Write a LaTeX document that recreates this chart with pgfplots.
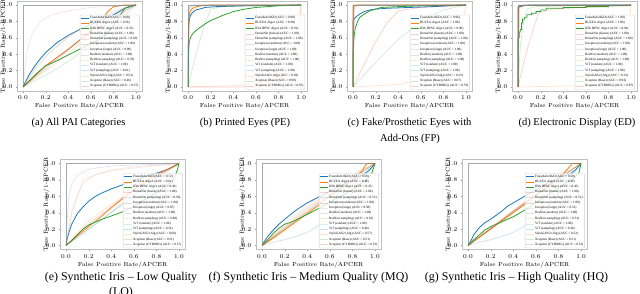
\documentclass[border=0pt]{standalone}
\usepackage{fontspec}
\usepackage{pgfplots}
\pgfplotsset{compat=1.18}
\newfontfamily\capfont{Liberation Serif}
\definecolor{tblue}{HTML}{1F77B4}
\definecolor{torange}{HTML}{FF7F0E}
\definecolor{tgreen}{HTML}{2CA02C}
\definecolor{tred}{HTML}{D62728}
\definecolor{tpurple}{HTML}{9467BD}
\definecolor{tbrown}{HTML}{8C564B}
\definecolor{tpink}{HTML}{E377C2}
\definecolor{tgray}{HTML}{7F7F7F}
\definecolor{tolive}{HTML}{BCBD22}
\definecolor{tcyan}{HTML}{17BECF}
\pgfplotsset{
 roc/.style={
  scale only axis, width=124.3pt, height=90.2pt, anchor=south west,
  xmin=-0.05, xmax=1.05, ymin=-0.05, ymax=1.05,
  xtick={0,0.2,0.4,0.6,0.8,1}, ytick={0,0.2,0.4,0.6,0.8,1},
  tick label style={font=\fontsize{6}{7}\selectfont, /pgf/number format/fixed, /pgf/number format/fixed zerofill, /pgf/number format/precision=1},
  label style={font=\fontsize{5.9}{7}\selectfont},
  xlabel={False Positive Rate/APCER},
  ylabel={True Positive Rate/1-BPCER},
  xlabel style={yshift=3.5pt},
  ylabel style={at={(axis description cs:-0.113,0.5)}, anchor=center},
  axis line style={draw=black!25},
  tick pos=left, tick align=outside, major tick length=1.5pt, tick style={black!40},
  legend style={at={(0.985,0.015)}, anchor=south east, font=\capfont\fontsize{3.3}{3.6}\selectfont, draw=black!18, fill=white, fill opacity=0.8, text opacity=1, rounded corners=1pt, inner sep=0.8pt, row sep=0.45pt, nodes={inner sep=0.5pt}},
  legend cell align=left,
  legend image code/.code={\draw[##1] (0pt,0pt) -- (8pt,0pt);},
 },
 m1/.style={tblue, line width=0.8pt},
 m2/.style={torange, line width=0.8pt},
 m3/.style={tgreen, line width=0.8pt},
 fd/.style={line width=0.7pt, opacity=0.22},
 f4/.style={tred, fd}, f5/.style={tpurple, fd}, f6/.style={tbrown, fd}, f7/.style={tpink, fd},
 f8/.style={tgray, fd}, f9/.style={tolive, fd}, f10/.style={tcyan, fd}, f11/.style={tblue, fd},
 f12/.style={torange, fd}, f13/.style={tgreen, fd}, f14/.style={tred, fd},
}
\begin{document}
\begin{tikzpicture}
\path[use as bounding box] (0pt,0pt) rectangle (640pt,294pt);

% (a)
\begin{axis}[roc, at={(17.4pt,202.9pt)},
 legend entries={FraunhoferIGD (AUC = 0.68),BUCEA Algo1 (AUC = 0.56),IDA DPSC Algo1 (AUC = 0.53),DenseNet (fusion) (AUC = 1.00),DenseNet (sampling) (AUC = 0.69),Inception (random) (AUC = 1.00),Inception (large) (AUC = 0.89),ResNet (random) (AUC = 1.00),ResNet (sampling) (AUC = 0.70),ViT (random) (AUC = 1.00),ViT (sampling) (AUC = 0.61),StyleGAN2 (Alg) (AUC = 0.53),Xception (Base) (AUC = 0.46),Xception (CYBORG) (AUC = 0.57)}]
\addplot[m1] coordinates {(0,0)(0.02,0.06)(0.05,0.14)(0.1,0.25)(0.15,0.34)(0.2,0.42)(0.3,0.54)(0.4,0.63)(0.5,0.7)(0.6,0.76)(0.7,0.82)(0.8,0.88)(0.9,0.96)(0.95,0.99)(1,1)};
\addplot[m2] coordinates {(0,0)(0.1,0.13)(0.2,0.26)(0.3,0.36)(0.4,0.46)(0.5,0.57)(0.6,0.68)(0.7,0.83)(0.75,0.92)(0.8,0.98)(0.9,1)(1,1)};
\addplot[m3] coordinates {(0,0)(0.1,0.14)(0.2,0.26)(0.3,0.32)(0.4,0.39)(0.5,0.46)(0.6,0.53)(0.7,0.6)(0.75,0.66)(0.8,0.75)(0.85,0.85)(0.9,0.96)(1,1)};
\addplot[f4] coordinates {(0,0)(0,1)(1,1)};
\addplot[f5] coordinates {(0,0)(0.1,0.22)(0.2,0.38)(0.3,0.5)(0.5,0.7)(0.7,0.85)(0.9,0.96)(1,1)};
\addplot[f6] coordinates {(0,0)(0,1)(1,1)};
\addplot[f7] coordinates {(0,0)(0.03,0.4)(0.08,0.65)(0.15,0.8)(0.25,0.88)(0.4,0.93)(0.6,0.97)(1,1)};
\addplot[f8] coordinates {(0,0)(0,1)(1,1)};
\addplot[f9] coordinates {(0,0)(0.1,0.2)(0.2,0.36)(0.4,0.62)(0.6,0.8)(0.8,0.93)(1,1)};
\addplot[f10] coordinates {(0,0)(0,1)(1,1)};
\addplot[f11] coordinates {(0,0)(0.2,0.22)(0.4,0.45)(0.6,0.7)(0.8,0.88)(1,1)};
\addplot[f12] coordinates {(0,0)(0.3,0.3)(0.6,0.63)(0.8,0.84)(1,1)};
\addplot[f13] coordinates {(0,0)(0.3,0.22)(0.6,0.5)(0.8,0.74)(1,1)};
\addplot[f14] coordinates {(0,0)(0.3,0.36)(0.6,0.67)(0.8,0.86)(1,1)};
\end{axis}

% (b)
\begin{axis}[roc, at={(182.5pt,202.9pt)},
 legend entries={FraunhoferIGD (AUC = 0.98),BUCEA Algo1 (AUC = 0.98),IDA DPSC Algo1 (AUC = 0.91),DenseNet (fusion) (AUC = 1.00),DenseNet (sampling) (AUC = 1.00),Inception (random) (AUC = 1.00),Inception (large) (AUC = 1.00),ResNet (random) (AUC = 1.00),ResNet (sampling) (AUC = 1.00),ViT (random) (AUC = 1.00),ViT (sampling) (AUC = 1.00),StyleGAN2 (Alg) (AUC = 0.18),Xception (Base) (AUC = 0.90),Xception (CYBORG) (AUC = 0.07)}]
\addplot[m1] coordinates {(0,0)(0.003,0.72)(0.01,0.82)(0.02,0.87)(0.04,0.91)(0.07,0.94)(0.1,0.95)(0.15,0.97)(0.25,0.98)(0.5,0.99)(1,1)};
\addplot[m2] coordinates {(0,0)(0.003,0.78)(0.01,0.88)(0.02,0.93)(0.04,0.96)(0.07,0.98)(0.12,0.99)(0.2,1)(1,1)};
\addplot[m3] coordinates {(0,0)(0.003,0.45)(0.01,0.55)(0.02,0.6)(0.04,0.65)(0.07,0.69)(0.1,0.72)(0.15,0.77)(0.2,0.81)(0.3,0.87)(0.4,0.92)(0.5,0.95)(0.6,0.97)(0.8,0.99)(1,1)};
\addplot[f4] coordinates {(0,0)(0,1)(1,1)};
\addplot[f5] coordinates {(0,0)(0,0.95)(0.05,1)(1,1)};
\addplot[f6] coordinates {(0,0)(0,1)(1,1)};
\addplot[f7] coordinates {(0,0)(0.01,0.9)(0.1,0.99)(1,1)};
\addplot[f8] coordinates {(0,0)(0,1)(1,1)};
\addplot[f9] coordinates {(0,0)(0.02,0.96)(0.1,1)(1,1)};
\addplot[f10] coordinates {(0,0)(0,1)(1,1)};
\addplot[f11] coordinates {(0,0)(0.01,0.98)(0.05,1)(1,1)};
\addplot[f12] coordinates {(0,0)(0.5,0.02)(0.8,0.1)(0.9,0.3)(0.97,0.7)(1,1)};
\addplot[f13] coordinates {(0,0)(0.05,0.3)(0.1,0.55)(0.15,0.78)(0.2,0.95)(0.3,0.98)(1,1)};
\addplot[f14] coordinates {(0,0)(0.95,0)(0.97,0.3)(1,1)};
\end{axis}

% (c)
\begin{axis}[roc, at={(347.4pt,202.9pt)},
 legend entries={FraunhoferIGD (AUC = 0.96),BUCEA Algo1 (AUC = 1.00),IDA DPSC Algo1 (AUC = 0.96),DenseNet (fusion) (AUC = 1.00),DenseNet (sampling) (AUC = 1.00),Inception (random) (AUC = 1.00),Inception (large) (AUC = 1.00),ResNet (random) (AUC = 1.00),ResNet (sampling) (AUC = 1.00),ViT (random) (AUC = 1.00),ViT (sampling) (AUC = 1.00),StyleGAN2 (Alg) (AUC = 0.25),Xception (Base) (AUC = 0.67),Xception (CYBORG) (AUC = 0.79)}]
\addplot[m1] coordinates {(0,0)(0,0.8)(0.01,0.83)(0.03,0.86)(0.06,0.89)(0.1,0.92)(0.15,0.94)(0.2,0.95)(0.3,0.96)(0.5,0.97)(0.7,0.98)(1,1)};
\addplot[m2] coordinates {(0,0)(0,0.99)(0.02,1)(1,1)};
\addplot[m3] coordinates {(0,0)(0,0.42)(0.005,0.55)(0.01,0.63)(0.02,0.72)(0.04,0.8)(0.06,0.85)(0.1,0.89)(0.15,0.93)(0.2,0.95)(0.25,0.97)(0.4,0.98)(0.6,0.99)(1,1)};
\addplot[f4] coordinates {(0,0)(0,1)(1,1)};
\addplot[f5] coordinates {(0,0)(0,0.97)(0.05,1)(1,1)};
\addplot[f6] coordinates {(0,0)(0,1)(1,1)};
\addplot[f7] coordinates {(0,0)(0.01,0.95)(0.06,1)(1,1)};
\addplot[f8] coordinates {(0,0)(0,1)(1,1)};
\addplot[f9] coordinates {(0,0)(0.01,0.97)(0.04,1)(1,1)};
\addplot[f10] coordinates {(0,0)(0,1)(1,1)};
\addplot[f11] coordinates {(0,0)(0.01,0.98)(0.03,1)(1,1)};
\addplot[f12] coordinates {(0,0)(0.4,0.03)(0.7,0.12)(0.85,0.3)(0.95,0.65)(1,1)};
\addplot[f13] coordinates {(0,0)(0.2,0.3)(0.4,0.58)(0.6,0.8)(0.8,0.94)(1,1)};
\addplot[f14] coordinates {(0,0)(0.1,0.28)(0.2,0.55)(0.3,0.78)(0.4,0.93)(0.6,0.97)(1,1)};
\end{axis}

% (d)
\begin{axis}[roc, at={(512.4pt,202.9pt)},
 legend entries={FraunhoferIGD (AUC = 1.00),BUCEA Algo1 (AUC = 1.00),IDA DPSC Algo1 (AUC = 0.94),DenseNet (fusion) (AUC = 1.00),DenseNet (sampling) (AUC = 1.00),Inception (random) (AUC = 1.00),Inception (large) (AUC = 1.00),ResNet (random) (AUC = 1.00),ResNet (sampling) (AUC = 1.00),ViT (random) (AUC = 1.00),ViT (sampling) (AUC = 1.00),StyleGAN2 (Alg) (AUC = 0.13),Xception (Base) (AUC = 0.94),Xception (CYBORG) (AUC = 0.87)}]
\addplot[m1] coordinates {(0,0)(0,0.97)(0.02,0.98)(0.05,0.99)(0.1,1)(1,1)};
\addplot[m2] coordinates {(0,0)(0,1)(1,1)};
\addplot[m3] coordinates {(0,0)(0,0.6)(0.01,0.6)(0.01,0.67)(0.02,0.67)(0.02,0.7)(0.03,0.7)(0.03,0.78)(0.04,0.78)(0.04,0.83)(0.06,0.83)(0.06,0.85)(0.08,0.85)(0.08,0.88)(0.12,0.88)(0.12,0.9)(0.16,0.9)(0.16,0.92)(0.2,0.92)(0.2,0.94)(0.25,0.94)(0.25,0.96)(0.4,0.96)(0.4,0.97)(0.6,0.97)(0.6,0.98)(0.8,0.98)(0.8,0.99)(0.95,0.99)(1,1)};
\addplot[f4] coordinates {(0,0)(0,1)(1,1)};
\addplot[f5] coordinates {(0,0)(0,0.98)(0.04,1)(1,1)};
\addplot[f6] coordinates {(0,0)(0,1)(1,1)};
\addplot[f7] coordinates {(0,0)(0.01,0.96)(0.05,1)(1,1)};
\addplot[f8] coordinates {(0,0)(0,1)(1,1)};
\addplot[f9] coordinates {(0,0)(0.01,0.97)(0.03,1)(1,1)};
\addplot[f10] coordinates {(0,0)(0,1)(1,1)};
\addplot[f11] coordinates {(0,0)(0.01,0.98)(0.03,1)(1,1)};
\addplot[f12] coordinates {(0,0)(0.7,0.02)(0.9,0.1)(0.97,0.5)(1,1)};
\addplot[f13] coordinates {(0,0)(0.02,0.5)(0.05,0.8)(0.08,0.95)(0.15,0.98)(1,1)};
\addplot[f14] coordinates {(0,0)(0.05,0.3)(0.1,0.55)(0.18,0.9)(0.3,0.95)(1,1)};
\end{axis}

% (e)
\begin{axis}[roc, at={(60.4pt,44.4pt)},
 legend entries={FraunhoferIGD (AUC = 0.72),BUCEA Algo1 (AUC = 0.61),IDA DPSC Algo1 (AUC = 0.46),DenseNet (fusion) (AUC = 1.00),DenseNet (sampling) (AUC = 0.96),Inception (random) (AUC = 1.00),Inception (large) (AUC = 0.87),ResNet (random) (AUC = 1.00),ResNet (sampling) (AUC = 0.86),ViT (random) (AUC = 1.00),ViT (sampling) (AUC = 0.54),StyleGAN2 (Alg) (AUC = 0.60),Xception (Base) (AUC = 0.51),Xception (CYBORG) (AUC = 0.57)}]
\addplot[m1] coordinates {(0,0)(0.01,0.08)(0.03,0.18)(0.05,0.26)(0.1,0.39)(0.15,0.47)(0.2,0.54)(0.25,0.59)(0.3,0.63)(0.4,0.69)(0.5,0.74)(0.6,0.79)(0.7,0.84)(0.8,0.88)(0.9,0.93)(1,1)};
\addplot[m2] coordinates {(0,0)(0.1,0.12)(0.2,0.23)(0.3,0.34)(0.4,0.46)(0.5,0.57)(0.6,0.68)(0.7,0.78)(0.8,0.86)(0.9,0.93)(1,1)};
\addplot[m3] coordinates {(0,0)(0.05,0.06)(0.1,0.13)(0.15,0.2)(0.2,0.25)(0.3,0.31)(0.4,0.36)(0.5,0.41)(0.6,0.48)(0.7,0.56)(0.8,0.65)(0.9,0.74)(0.95,0.8)(0.98,0.9)(1,1)};
\addplot[f4] coordinates {(0,0)(0,1)(1,1)};
\addplot[f5] coordinates {(0,0)(0.02,0.55)(0.05,0.75)(0.1,0.86)(0.2,0.93)(0.4,0.97)(1,1)};
\addplot[f6] coordinates {(0,0)(0,1)(1,1)};
\addplot[f7] coordinates {(0,0)(0.05,0.42)(0.1,0.62)(0.15,0.76)(0.25,0.86)(0.4,0.92)(0.6,0.96)(1,1)};
\addplot[f8] coordinates {(0,0)(0,1)(1,1)};
\addplot[f9] coordinates {(0,0)(0.05,0.38)(0.1,0.58)(0.15,0.8)(0.3,0.88)(0.5,0.93)(0.7,0.96)(1,1)};
\addplot[f10] coordinates {(0,0)(0,1)(1,1)};
\addplot[f11] coordinates {(0,0)(0.2,0.2)(0.4,0.4)(0.6,0.6)(0.8,0.83)(1,1)};
\addplot[f12] coordinates {(0,0)(0.2,0.3)(0.4,0.5)(0.6,0.68)(0.8,0.85)(1,1)};
\addplot[f13] coordinates {(0,0)(0.3,0.3)(0.6,0.62)(1,1)};
\addplot[f14] coordinates {(0,0)(0.2,0.26)(0.5,0.58)(0.8,0.85)(1,1)};
\end{axis}

% (f)
\begin{axis}[roc, at={(256.4pt,44.4pt)},
 legend entries={FraunhoferIGD (AUC = 0.58),BUCEA Algo1 (AUC = 0.48),IDA DPSC Algo1 (AUC = 0.47),DenseNet (fusion) (AUC = 1.00),DenseNet (sampling) (AUC = 0.53),Inception (random) (AUC = 1.00),Inception (large) (AUC = 0.58),ResNet (random) (AUC = 1.00),ResNet (sampling) (AUC = 0.56),ViT (random) (AUC = 1.00),ViT (sampling) (AUC = 0.40),StyleGAN2 (Alg) (AUC = 0.57),Xception (Base) (AUC = 0.51),Xception (CYBORG) (AUC = 0.52)}]
\addplot[m1] coordinates {(0,0)(0.02,0.05)(0.05,0.11)(0.1,0.19)(0.15,0.26)(0.2,0.32)(0.3,0.43)(0.4,0.52)(0.5,0.59)(0.6,0.66)(0.7,0.73)(0.8,0.8)(0.85,0.83)(0.9,0.87)(0.95,0.92)(1,1)};
\addplot[m2] coordinates {(0,0)(0.1,0.09)(0.2,0.19)(0.3,0.29)(0.4,0.39)(0.5,0.49)(0.6,0.6)(0.7,0.7)(0.8,0.8)(0.88,0.9)(0.92,0.99)(0.95,1)(1,1)};
\addplot[m3] coordinates {(0,0)(0.05,0.07)(0.1,0.15)(0.15,0.21)(0.2,0.26)(0.25,0.28)(0.3,0.31)(0.4,0.38)(0.5,0.45)(0.6,0.53)(0.7,0.6)(0.8,0.68)(0.9,0.78)(0.95,0.83)(0.97,0.88)(1,1)};
\addplot[f4] coordinates {(0,0)(0,1)(1,1)};
\addplot[f5] coordinates {(0,0)(0.2,0.22)(0.4,0.43)(0.6,0.63)(0.8,0.83)(1,1)};
\addplot[f6] coordinates {(0,0)(0,1)(1,1)};
\addplot[f7] coordinates {(0,0)(0.2,0.27)(0.4,0.48)(0.6,0.68)(0.8,0.86)(1,1)};
\addplot[f8] coordinates {(0,0)(0,1)(1,1)};
\addplot[f9] coordinates {(0,0)(0.2,0.24)(0.4,0.46)(0.6,0.66)(0.8,0.85)(1,1)};
\addplot[f10] coordinates {(0,0)(0,1)(1,1)};
\addplot[f11] coordinates {(0,0)(0.1,0.04)(0.2,0.07)(0.3,0.11)(0.4,0.16)(0.5,0.24)(0.6,0.35)(0.7,0.5)(0.8,0.65)(0.9,0.82)(1,1)};
\addplot[f12] coordinates {(0,0)(0.3,0.34)(0.6,0.66)(0.85,0.9)(1,1)};
\addplot[f13] coordinates {(0,0)(0.5,0.51)(1,1)};
\addplot[f14] coordinates {(0,0)(0.3,0.31)(0.7,0.72)(1,1)};
\end{axis}

% (g)
\begin{axis}[roc, at={(462.4pt,44.4pt)},
 legend entries={FraunhoferIGD (AUC = 0.58),BUCEA Algo1 (AUC = 0.49),IDA DPSC Algo1 (AUC = 0.45),DenseNet (fusion) (AUC = 1.00),DenseNet (sampling) (AUC = 0.52),Inception (random) (AUC = 1.00),Inception (large) (AUC = 0.52),ResNet (random) (AUC = 1.00),ResNet (sampling) (AUC = 0.51),ViT (random) (AUC = 1.00),ViT (sampling) (AUC = 0.40),StyleGAN2 (Alg) (AUC = 0.52),Xception (Base) (AUC = 0.51),Xception (CYBORG) (AUC = 0.52)}]
\addplot[m1] coordinates {(0,0)(0.03,0.07)(0.05,0.13)(0.1,0.22)(0.15,0.28)(0.2,0.32)(0.25,0.37)(0.3,0.42)(0.35,0.48)(0.4,0.52)(0.5,0.6)(0.6,0.68)(0.7,0.76)(0.8,0.82)(0.85,0.85)(0.9,0.87)(0.95,0.92)(1,1)};
\addplot[m2] coordinates {(0,0)(0.1,0.1)(0.2,0.2)(0.3,0.3)(0.4,0.4)(0.5,0.5)(0.6,0.61)(0.7,0.71)(0.8,0.82)(0.88,0.93)(0.92,1)(1,1)};
\addplot[m3] coordinates {(0,0)(0.05,0.07)(0.1,0.13)(0.15,0.19)(0.2,0.23)(0.3,0.29)(0.4,0.35)(0.5,0.43)(0.6,0.52)(0.7,0.61)(0.8,0.7)(0.9,0.79)(0.95,0.84)(0.98,0.88)(1,1)};
\addplot[f4] coordinates {(0,0)(0,1)(1,1)};
\addplot[f5] coordinates {(0,0)(0.2,0.21)(0.4,0.42)(0.6,0.62)(0.8,0.82)(1,1)};
\addplot[f6] coordinates {(0,0)(0,1)(1,1)};
\addplot[f7] coordinates {(0,0)(0.2,0.22)(0.4,0.43)(0.6,0.63)(0.8,0.83)(1,1)};
\addplot[f8] coordinates {(0,0)(0,1)(1,1)};
\addplot[f9] coordinates {(0,0)(0.2,0.21)(0.4,0.42)(0.6,0.61)(0.8,0.81)(1,1)};
\addplot[f10] coordinates {(0,0)(0,1)(1,1)};
\addplot[f11] coordinates {(0,0)(0.1,0.04)(0.2,0.07)(0.3,0.11)(0.4,0.16)(0.5,0.24)(0.6,0.35)(0.7,0.5)(0.8,0.65)(0.9,0.82)(1,1)};
\addplot[f12] coordinates {(0,0)(0.3,0.32)(0.6,0.63)(0.85,0.87)(1,1)};
\addplot[f13] coordinates {(0,0)(0.5,0.51)(1,1)};
\addplot[f14] coordinates {(0,0)(0.3,0.31)(0.7,0.72)(1,1)};
\end{axis}

% captions
\begin{scope}[every node/.style={font=\capfont\fontsize{10.5}{15}\selectfont, inner sep=0pt}]
\node at (78.5pt,171.5pt) {(a) All PAI Categories};
\node at (245pt,171.5pt) {(b) Printed Eyes (PE)};
\node at (409.5pt,171.5pt) {(c) Fake/Prosthetic Eyes with};
\node at (410pt,155pt) {Add-Ons (FP)};
\node at (577pt,171.5pt) {(d) Electronic Display (ED)};
\end{scope}
\begin{scope}[every node/.style={font=\capfont\fontsize{11.9}{15}\selectfont, inner sep=0pt, anchor=base}]
\node at (121pt,13.5pt) {(e) Synthetic Iris – Low Quality};
\node at (121pt,-2pt) {(LQ)};
\node at (308.5pt,13.5pt) {(f) Synthetic Iris – Medium Quality (MQ)};
\node at (516.5pt,13.5pt) {(g) Synthetic Iris – High Quality (HQ)};
\end{scope}
\end{tikzpicture}
\end{document}
